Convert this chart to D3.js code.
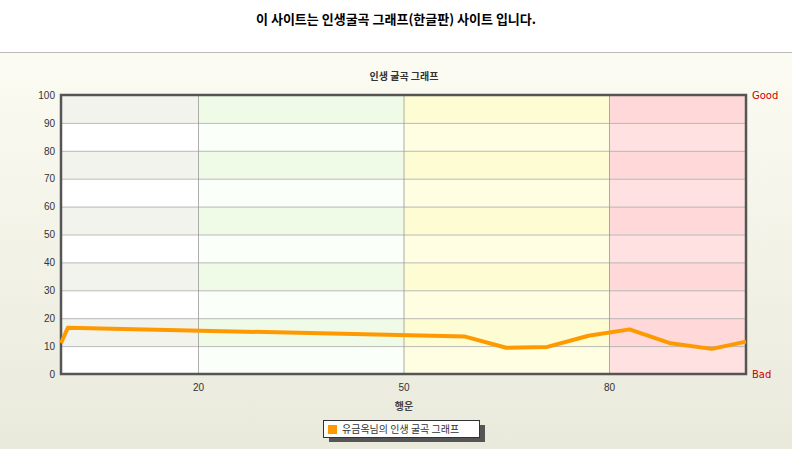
<!DOCTYPE html><html><head><meta charset="utf-8"><script src="https://d3js.org/d3.v7.min.js"></script>
<style>body{margin:0;}svg{display:block;font-family:"DejaVu Sans",sans-serif;}</style></head><body><svg id="c" width="792" height="449"></svg><script>
const xValues=[0,1,59,65,71,77,83,89,95,100];
const yValues=[11,16.6,13.4,9.4,9.7,13.7,16,11,9,11.6];
const xTicks=[20,50,80];
const yTicks=[0,10,20,30,40,50,60,70,80,90,100];
const bands=[[0,20,"#f3f3ee","#ffffff"],[20,50,"#effbe6","#fafffa"],[50,80,"#fefcd2","#fffde2"],[80,100,"#ffd9d9","#ffe1e1"]];
const svg=d3.select("#c");
const defs=svg.append("defs");
const g1=defs.append("linearGradient").attr("id","bg").attr("x1",0).attr("y1",0).attr("x2",0).attr("y2",1);
g1.append("stop").attr("offset",0).attr("stop-color","#fefef6");g1.append("stop").attr("offset",1).attr("stop-color","#e9e9dc");
svg.append("rect").attr("width",792).attr("height",449).attr("fill","url(#bg)");
svg.append("rect").attr("width",792).attr("height",52).attr("fill","#fff");
svg.append("line").attr("x1",0).attr("x2",792).attr("y1",52.5).attr("y2",52.5).attr("stroke","#bbb");
svg.append("text").attr("x",396).attr("y",24).attr("text-anchor","middle").attr("font-size",13).attr("font-weight","bold").attr("font-family","Noto Sans CJK KR").text("이 사이트는 인생굴곡 그래프(한글판) 사이트 입니다.");
const L=61,R=746,T=95,B=374;
const x=d3.scaleLinear().domain([0,100]).range([L,R]);
const y=d3.scaleLinear().domain([0,100]).range([B,T]);
bands.forEach(b=>{for(let v=0;v<100;v+=10){svg.append("rect").attr("x",x(b[0])).attr("width",x(b[1])-x(b[0])).attr("y",y(v+10)).attr("height",y(v)-y(v+10)).attr("fill",(v/10)%2==1?b[2]:b[3]);}});
svg.append("text").attr("x",404).attr("y",80).attr("text-anchor","middle").attr("font-size",10).attr("font-weight","bold").attr("fill","#333").attr("font-family","Noto Sans CJK KR").text("인생 굴곡 그래프");
svg.append("g").attr("transform",`translate(${L},0)`).call(d3.axisLeft(y).tickValues(yTicks).tickSize(-(R-L)).tickPadding(6)).call(g=>{g.select(".domain").remove();g.selectAll("line").attr("stroke","#aaa").attr("stroke-width",0.8);g.selectAll("text").attr("font-size",10).attr("fill","#333");});
svg.append("g").attr("transform",`translate(0,${B})`).call(d3.axisBottom(x).tickValues(xTicks).tickSize(-(B-T)).tickPadding(10)).call(g=>{g.select(".domain").remove();g.selectAll("line").attr("stroke","#999").attr("stroke-width",0.8);g.selectAll("text").attr("font-size",10).attr("fill","#333");});
svg.append("rect").attr("x",L).attr("y",T).attr("width",R-L).attr("height",B-T).attr("fill","none").attr("stroke","#555").attr("stroke-width",2.5);
svg.append("path").datum(xValues.map((v,i)=>[v,yValues[i]])).attr("d",d3.line().x(d=>x(d[0])).y(d=>y(d[1]))).attr("fill","none").attr("stroke","#ff9900").attr("stroke-width",4).attr("stroke-linejoin","round");
svg.append("text").attr("x",752).attr("y",99).attr("font-size",10).attr("fill","#cc0000").text("Good");
svg.append("text").attr("x",752).attr("y",378).attr("font-size",10).attr("fill","#cc0000").text("Bad");
svg.append("text").attr("x",404).attr("y",410).attr("text-anchor","middle").attr("font-size",10).attr("font-weight","bold").attr("fill","#444").attr("font-family","Noto Sans CJK KR").text("행운");
svg.append("rect").attr("x",327).attr("y",423).attr("width",156).attr("height",17).attr("fill","#555").attr("transform","translate(2,2)");
svg.append("rect").attr("x",323.5).attr("y",420.5).attr("width",156).attr("height",17).attr("fill","#fff").attr("stroke","#333");
svg.append("rect").attr("x",328).attr("y",425).attr("width",9).attr("height",9).attr("fill","#ff9900");
svg.append("text").attr("x",342).attr("y",433).attr("font-size",10).attr("fill","#333").attr("font-family","Noto Sans CJK KR").text("유금옥님의 인생 굴곡 그래프");
</script></body></html>
